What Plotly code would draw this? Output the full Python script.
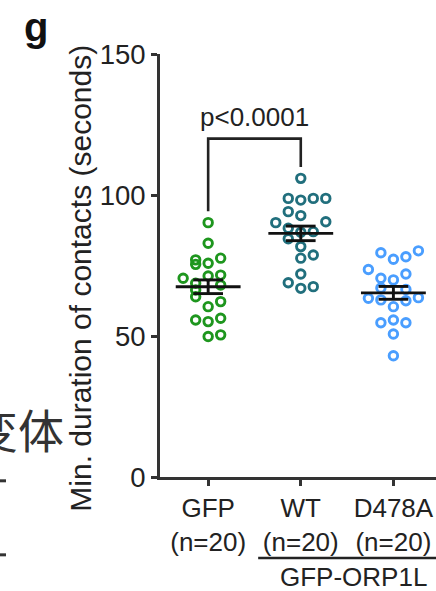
import numpy as np
import plotly.graph_objects as go

# ---------------- data ----------------
categories = ["GFP<br>(n=20)", "WT<br>(n=20)", "D478A<br>(n=20)"]
colors = ["#1e961e", "#216f7d", "#4a9eff"]

gfp_values = [90.2, 82.9, 77.0, 75.4, 75.8, 77.6, 70.5, 71.3, 71.6, 68.7,
              66.3, 68.1, 63.9, 60.4, 62.2, 55.7, 55.1, 56.3, 49.8, 50.4]
gfp_cols = [0, 0, -1, -1, 0, 1, -2, 0, 1, -1, -1, 1, -1, 0, 1, -1, 0, 1, 0, 1]

wt_values = [105.9, 98.8, 98.2, 98.8, 98.8, 94.1, 92.7, 90.2, 90.5, 88.2,
             87.0, 86.8, 84.5, 81.7, 77.6, 78.7, 72.0, 68.9, 66.9, 67.5]
wt_cols = [0, -1, 0, 1, 2, -1, 0, -2, 2, -1, 1, 0, -1, 0, 0, 1, 0, -1, 0, 1]

d478a_values = [79.5, 77.2, 78.1, 80.2, 73.6, 70.5, 69.9, 72.0, 67.0, 66.5,
                63.4, 62.8, 62.5, 63.6, 60.4, 54.7, 55.7, 54.7, 50.7, 43.0]
d478a_cols = [-1, 0, 1, 2, -2, -1, 0, 1, -1, 1, -2, -1, 1, 2, 0, -1, 0, 1, 0, 0]

groups_values = [gfp_values, wt_values, d478a_values]
groups_cols = [gfp_cols, wt_cols, d478a_cols]

y_ticks = [0, 50, 100, 150]
p_text = "p<0.0001"
bracket_level = 120
y_title = "Min. duration of contacts (seconds)"
group_label = "GFP-ORP1L"

# ---------------- figure ----------------
FONT = "Liberation Sans, Arial, sans-serif"
TXT = "#222222"
FS = 26
col_step = 0.135
mean_half = 0.35
sem_half = 0.16

fig = go.Figure()

for i, (vals, cols, c) in enumerate(zip(groups_values, groups_cols, colors)):
    xs = [i + k * col_step for k in cols]
    fig.add_trace(go.Scatter(
        x=xs, y=vals, mode="markers",
        marker=dict(symbol="circle-open", size=8.5, color=c, line=dict(width=2.9, color=c)),
        showlegend=False, hoverinfo="y"))

for i, vals in enumerate(groups_values):
    arr = np.array(vals)
    m = arr.mean()
    sem = arr.std(ddof=1) / np.sqrt(len(arr))
    seg = dict(mode="lines", line=dict(color="#111111", width=2.9), showlegend=False, hoverinfo="skip")
    fig.add_trace(go.Scatter(x=[i - mean_half, i + mean_half], y=[m, m], **seg))
    fig.add_trace(go.Scatter(x=[i - sem_half, i + sem_half], y=[m + sem, m + sem], **seg))
    fig.add_trace(go.Scatter(x=[i - sem_half, i + sem_half], y=[m - sem, m - sem], **seg))
    fig.add_trace(go.Scatter(x=[i, i], y=[m - sem, m + sem], **seg))

# significance bracket between GFP and WT
gap = 4
left_end = max(gfp_values) + gap
right_end = max(wt_values) + gap
fig.add_trace(go.Scatter(
    x=[0, 0, 1, 1], y=[left_end, bracket_level, bracket_level, right_end],
    mode="lines", line=dict(color="#222222", width=2.6), showlegend=False, hoverinfo="skip"))

fig.add_annotation(x=0.5, y=bracket_level, xref="x", yref="y", text=p_text,
                   showarrow=False, yanchor="bottom", yshift=5,
                   font=dict(family=FONT, size=FS, color=TXT))

# y-axis title as rotated annotation
fig.add_annotation(x=-0.288, y=0.470, xref="paper", yref="paper", text=y_title,
                   textangle=-90, showarrow=False, xanchor="center", yanchor="middle",
                   font=dict(family=FONT, size=30, color=TXT))

# panel letter
fig.add_annotation(x=-0.5, y=1.065, xref="paper", yref="paper", text="<b>g</b>",
                   showarrow=False, xanchor="left", yanchor="middle",
                   font=dict(family=FONT, size=40, color="#111111"))

# group label under WT and D478A
fig.add_shape(type="line", xref="x", yref="paper", x0=0.54, x1=2.6, y0=-0.1915, y1=-0.1915,
              line=dict(color="#222222", width=2.6))
fig.add_annotation(x=1.57, y=-0.237, xref="x", yref="paper", text=group_label,
                   showarrow=False, xanchor="center", yanchor="middle",
                   font=dict(family=FONT, size=FS, color=TXT))

# fragments of neighbouring panel (cropped)
fig.add_annotation(x=-0.34, y=0.116, xref="paper", yref="paper", text="变体",
                   showarrow=False, xanchor="right", yanchor="middle",
                   font=dict(family="Noto Sans CJK SC", size=46, color="#333333"))
for yy in [-0.009, -0.184]:
    fig.add_shape(type="line", xref="paper", yref="paper", x0=-0.6, x1=-0.558, y0=yy, y1=yy,
                  line=dict(color="#333333", width=3))

fig.update_layout(
    width=436, height=591,
    margin=dict(l=160, r=0, t=54, b=114),
    paper_bgcolor="white", plot_bgcolor="white",
    font=dict(family=FONT, size=FS, color=TXT),
    xaxis=dict(range=[-0.52, 2.46], tickmode="array", tickvals=[0, 1, 2], ticktext=categories,
               showline=True, linecolor="#333333", linewidth=2.8, ticks="outside",
               ticklen=6, tickwidth=2.6, tickcolor="#333333", showgrid=False, zeroline=False,
               tickfont=dict(family=FONT, size=FS, color=TXT)),
    yaxis=dict(range=[0, 150], tickvals=y_ticks, showline=True, linecolor="#333333",
               linewidth=2.8, ticks="outside", ticklen=6, tickwidth=2.6, tickcolor="#333333",
               showgrid=False, zeroline=False, tickfont=dict(family=FONT, size=27.5, color=TXT)),
)

fig.write_html("out.html")
